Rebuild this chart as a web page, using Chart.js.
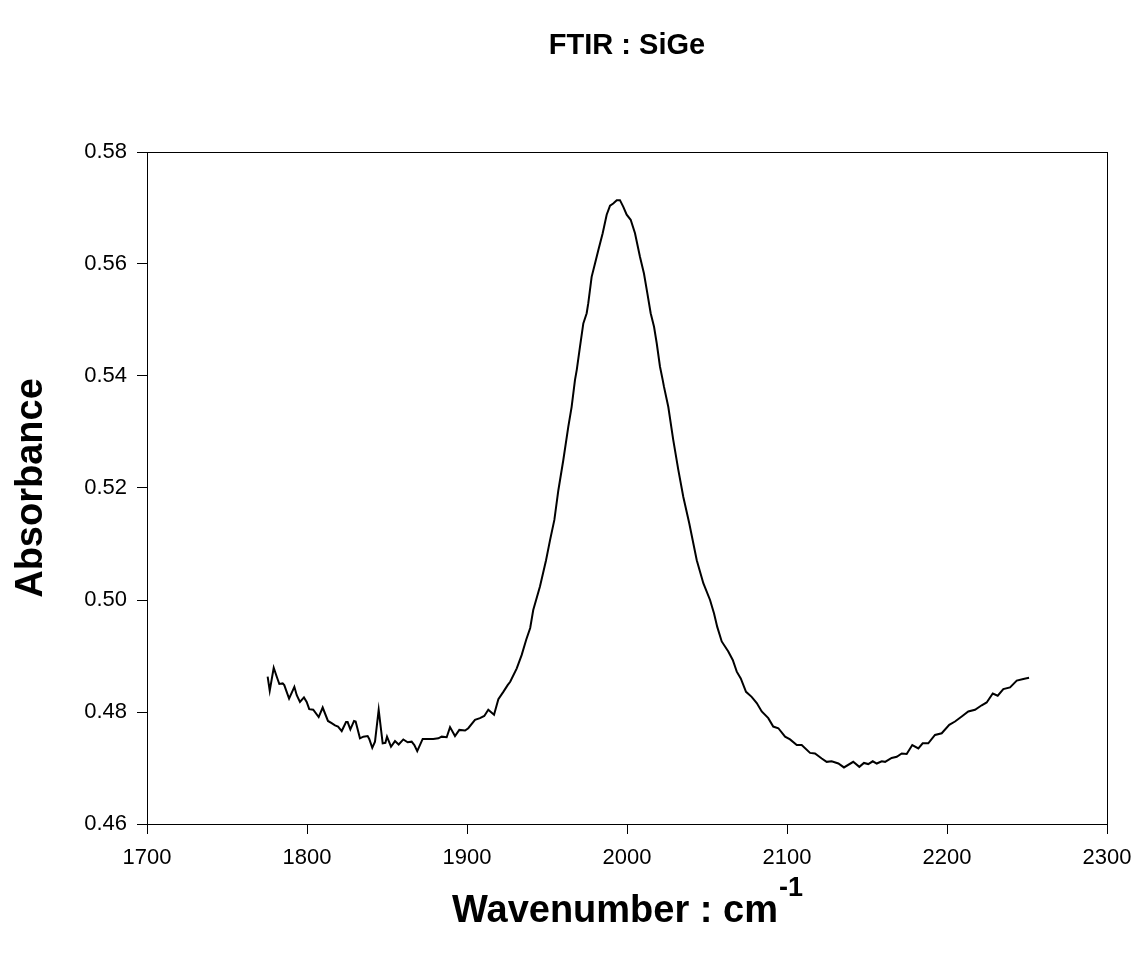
<!DOCTYPE html>
<html>
<head>
<meta charset="utf-8">
<title>FTIR : SiGe</title>
<script src="https://cdn.jsdelivr.net/npm/chart.js@4/dist/chart.umd.min.js"></script>
<style>
  html, body { margin: 0; padding: 0; background: #fff; }
  #wrap { width: 1143px; height: 955px; }
</style>
</head>
<body>
<div id="wrap"><canvas id="ftir" width="1143" height="955"></canvas></div>
<script>
// spectrum
const wavenumber = [
  1775.4, 1776.7, 1779.2, 1781.1, 1782.7, 1784.8, 1785.8, 1787.3, 1788.8, 1792.1,
  1793.6, 1795.6, 1798.1, 1799.8, 1801.4, 1803.9, 1807.3, 1809.8, 1813.1, 1815.4,
  1817.5, 1819.4, 1821.7, 1824.4, 1825.4, 1827.1, 1829.4, 1830.4, 1833.1, 1835.2,
  1837.9, 1838.9, 1840.8, 1842.5, 1844.8, 1847.3, 1849.0, 1850.0, 1852.5, 1855.0,
  1857.3, 1860.2, 1862.9, 1865.4, 1867.1, 1868.9, 1872.3, 1874.8, 1878.9, 1882.1,
  1884.2, 1887.3, 1889.4, 1892.5, 1895.2, 1898.8, 1900.8, 1905.0, 1908.1, 1910.8,
  1913.3, 1916.9, 1919.6, 1922.7, 1925.4, 1927.0, 1931.1, 1934.2, 1937.0, 1939.5,
  1941.4, 1945.6, 1949.4, 1951.9, 1954.6, 1957.1, 1960.2, 1963.3, 1965.4, 1967.5,
  1968.6, 1970.6, 1972.7, 1974.8, 1975.8, 1977.9, 1980.0, 1982.1, 1984.8, 1987.3,
  1989.4, 1991.4, 1993.6, 1995.6, 1997.7, 1999.8, 2002.3, 2005.0, 2008.1, 2010.6,
  2012.7, 2014.8, 2016.9, 2018.6, 2020.6, 2022.3, 2023.1, 2025.8, 2028.9, 2032.1,
  2035.2, 2038.9, 2043.6, 2047.7, 2051.9, 2054.4, 2056.4, 2059.2, 2063.3, 2066.1,
  2068.6, 2071.1, 2074.4, 2077.9, 2081.1, 2084.2, 2088.3, 2091.4, 2094.6, 2098.8,
  2101.9, 2106.1, 2109.2, 2114.4, 2117.5, 2121.7, 2124.8, 2127.9, 2132.1, 2135.6,
  2141.4, 2145.2, 2148.1, 2150.8, 2153.6, 2156.1, 2159.2, 2161.3, 2165.4, 2168.6,
  2171.7, 2174.8, 2178.3, 2182.1, 2184.8, 2188.3, 2192.5, 2196.7, 2201.4, 2205.0,
  2209.2, 2213.3, 2217.5, 2221.7, 2224.8, 2228.6, 2231.7, 2235.2, 2239.4, 2243.6,
  2247.7, 2251.3
];
const absorbance = [
  0.4863, 0.4838, 0.4879, 0.4863, 0.4850, 0.4851, 0.4848, 0.4836, 0.4824, 0.4845,
  0.4830, 0.4818, 0.4826, 0.4818, 0.4805, 0.4804, 0.4791, 0.4808, 0.4784, 0.4780,
  0.4776, 0.4774, 0.4766, 0.4782, 0.4782, 0.4769, 0.4784, 0.4783, 0.4753, 0.4756,
  0.4757, 0.4752, 0.4736, 0.4747, 0.4804, 0.4744, 0.4745, 0.4756, 0.4738, 0.4748,
  0.4742, 0.4751, 0.4746, 0.4747, 0.4741, 0.4730, 0.4752, 0.4752, 0.4752, 0.4753,
  0.4756, 0.4755, 0.4773, 0.4757, 0.4768, 0.4767, 0.4771, 0.4786, 0.4789, 0.4793,
  0.4804, 0.4795, 0.4823, 0.4836, 0.4848, 0.4854, 0.4878, 0.4902, 0.4929, 0.4950,
  0.4982, 0.5024, 0.5071, 0.5107, 0.5143, 0.5196, 0.5250, 0.5309, 0.5345, 0.5393,
  0.5411, 0.5452, 0.5494, 0.5512, 0.5530, 0.5577, 0.5601, 0.5625, 0.5655, 0.5688,
  0.5704, 0.5708, 0.5714, 0.5714, 0.5702, 0.5688, 0.5679, 0.5655, 0.5613, 0.5583,
  0.5548, 0.5512, 0.5488, 0.5458, 0.5417, 0.5393, 0.5381, 0.5345, 0.5286, 0.5232,
  0.5184, 0.5137, 0.5071, 0.5030, 0.5000, 0.4976, 0.4952, 0.4926, 0.4908, 0.4893,
  0.4872, 0.4860, 0.4836, 0.4827, 0.4816, 0.4801, 0.4789, 0.4774, 0.4771, 0.4756,
  0.4751, 0.4741, 0.4741, 0.4727, 0.4726, 0.4717, 0.4711, 0.4712, 0.4708, 0.4701,
  0.4711, 0.4702, 0.4709, 0.4707, 0.4712, 0.4708, 0.4712, 0.4711, 0.4718, 0.4720,
  0.4726, 0.4725, 0.4741, 0.4735, 0.4744, 0.4744, 0.4759, 0.4762, 0.4777, 0.4783,
  0.4792, 0.4801, 0.4804, 0.4812, 0.4817, 0.4833, 0.4829, 0.4841, 0.4844, 0.4856,
  0.4859, 0.4861
];

const xTicks = [1700, 1800, 1900, 2000, 2100, 2200, 2300];
const yTicks = [0.46, 0.48, 0.50, 0.52, 0.54, 0.56, 0.58];

const chartTitle = 'FTIR : SiGe';
const xTitle = 'Wavenumber : cm';
const xTitleSup = '-1';
const yTitle = 'Absorbance';

const FONT = "Arial, 'Liberation Sans', sans-serif";

// box round the plot + the three titles
const frameAndTitles = {
  id: 'frameAndTitles',
  afterDraw(chart) {
    const { ctx, chartArea: a } = chart;
    ctx.save();
    ctx.strokeStyle = '#000';
    ctx.lineWidth = 1;
    ctx.strokeRect(a.left + 0.5, a.top + 0.5, a.right - a.left, a.bottom - a.top);

    ctx.fillStyle = '#000';
    const cx = (a.left + a.right) / 2;

    ctx.font = 'bold 29px ' + FONT;
    ctx.textAlign = 'center';
    ctx.textBaseline = 'middle';
    ctx.fillText(chartTitle, cx, 46);

    // x title with superscript
    ctx.font = 'bold 38px ' + FONT;
    const w1 = ctx.measureText(xTitle).width;
    ctx.font = 'bold 27px ' + FONT;
    const w2 = ctx.measureText(xTitleSup).width;
    const x0 = cx - (w1 + w2) / 2;
    ctx.textAlign = 'left';
    ctx.textBaseline = 'alphabetic';
    ctx.font = 'bold 38px ' + FONT;
    ctx.fillText(xTitle, x0, 922);
    ctx.font = 'bold 27px ' + FONT;
    ctx.fillText(xTitleSup, x0 + w1 + 1, 896);

    // y title
    ctx.translate(32, (a.top + a.bottom) / 2);
    ctx.rotate(-Math.PI / 2);
    ctx.font = 'bold 38px ' + FONT;
    ctx.textAlign = 'center';
    ctx.textBaseline = 'middle';
    ctx.fillText(yTitle, 0, 0);
    ctx.restore();
  }
};

new Chart(document.getElementById('ftir'), {
  type: 'line',
  data: {
    datasets: [{
      data: wavenumber.map((x, i) => ({ x: x, y: absorbance[i] })),
      borderColor: '#000',
      borderWidth: 2,
      pointRadius: 0,
      tension: 0,
      fill: false
    }]
  },
  options: {
    responsive: false,
    animation: false,
    devicePixelRatio: 1,
    layout: { padding: { top: 152, right: 36, left: 0, bottom: 0 } },
    plugins: { legend: { display: false }, tooltip: { enabled: false } },
    scales: {
      x: {
        type: 'linear',
        min: 1700,
        max: 2300,
        afterBuildTicks: s => { s.ticks = xTicks.map(v => ({ value: v })); },
        afterFit: s => { s.height = 131; },
        ticks: {
          color: '#000',
          font: { family: FONT, size: 22 },
          padding: 11,
          maxRotation: 0,
          callback: v => String(v)
        },
        grid: { drawOnChartArea: false, drawTicks: true, tickLength: 10, color: '#000', lineWidth: 1 },
        border: { display: true, color: '#000', width: 1 }
      },
      y: {
        min: 0.46,
        max: 0.58,
        afterBuildTicks: s => { s.ticks = yTicks.map(v => ({ value: v })); },
        afterFit: s => { s.width = 147; },
        ticks: {
          color: '#000',
          font: { family: FONT, size: 22 },
          padding: 10,
          callback: v => Number(v).toFixed(2)
        },
        grid: { drawOnChartArea: false, drawTicks: true, tickLength: 10, color: '#000', lineWidth: 1 },
        border: { display: true, color: '#000', width: 1 }
      }
    }
  },
  plugins: [frameAndTitles]
});
</script>
</body>
</html>
